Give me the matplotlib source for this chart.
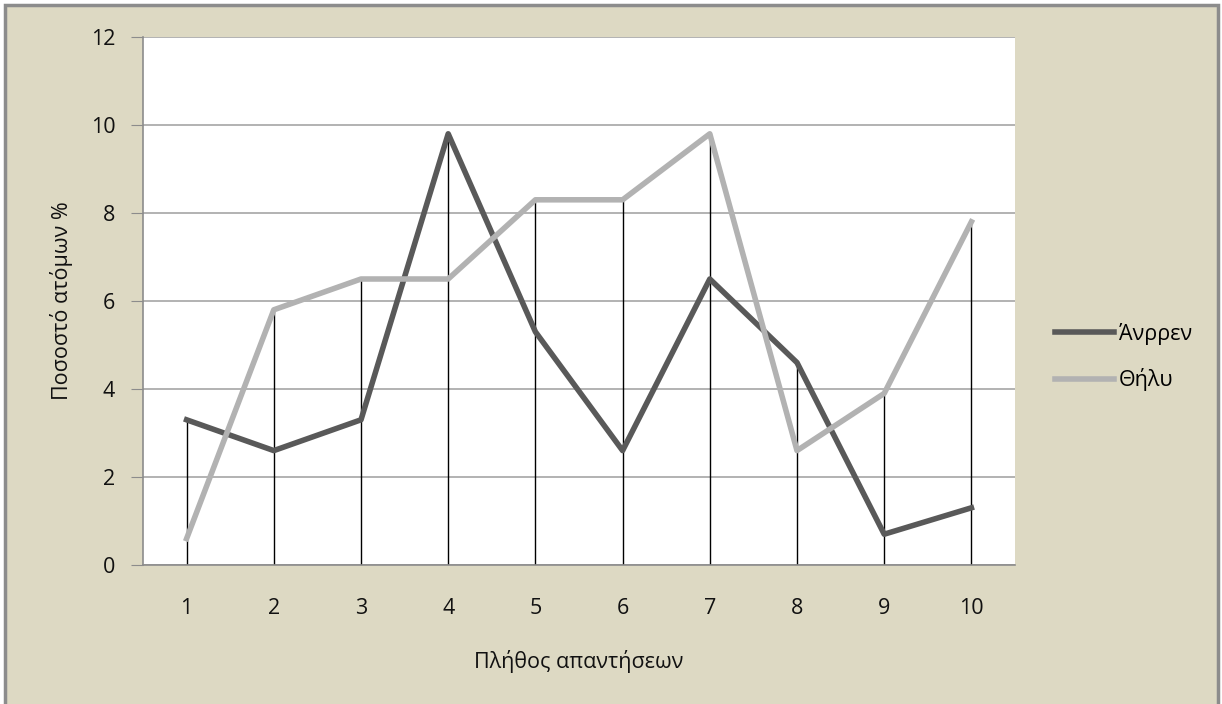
import matplotlib.pyplot as plt
from matplotlib.patches import Rectangle
import numpy as np

# answers per person vs. share of respondents, split by sex
answers = [1, 2, 3, 4, 5, 6, 7, 8, 9, 10]
male = [3.3, 2.6, 3.3, 9.8, 5.3, 2.6, 6.5, 4.6, 0.7, 1.3]
female = [0.6, 5.8, 6.5, 6.5, 8.3, 8.3, 9.8, 2.6, 3.9, 7.8]
y_ticks = [0, 2, 4, 6, 8, 10, 12]

BG = "#ddd9c3"
plt.rcParams['font.family'] = ['Open Sans', 'DejaVu Sans']

fig = plt.figure(figsize=(12.22, 7.04), dpi=100)
fig.patch.set_facecolor("white")
W, H = 1222, 704
frame = Rectangle((5 / W, -0.05), 1213 / W, 1.05 - 5 / H,
                  transform=fig.transFigure, facecolor=BG,
                  edgecolor="#8c8c8c", linewidth=2.5, zorder=-10)
fig.add_artist(frame)

ax = fig.add_axes([143 / W, 1 - 565 / H, 872 / W, 528 / H])
ax.set_facecolor("white")

x = np.array(answers)
top = np.maximum(male, female)
ax.vlines(x, 0, top, colors="black", linewidth=1, zorder=2)
ax.plot(x, male, color="#595959", linewidth=4, label="Άνρρεν", zorder=3)
ax.plot(x, female, color="#b2b2b2", linewidth=4, label="Θήλυ", zorder=3)

ax.set_xlim(0.5, 10.5)
ax.set_ylim(0, 12)
ax.set_yticks(y_ticks)
ax.set_xticks(x)
ax.set_xticklabels([str(a) for a in answers])
ax.yaxis.grid(True, color="#a6a6a6", linewidth=1.2)
ax.set_axisbelow(True)
for side in ["top", "right"]:
    ax.spines[side].set_visible(False)
for side in ["left", "bottom"]:
    ax.spines[side].set_color("#8c8c8c")
    ax.spines[side].set_linewidth(1.2)
ax.tick_params(axis="y", length=9, color="#8c8c8c", labelsize=15.5, pad=11,
               labelcolor="#111111")
ax.tick_params(axis="x", length=0, labelsize=15.5, pad=24, labelcolor="#111111")

ax.set_xlabel("Πλήθος απαντήσεων", fontsize=15.5, labelpad=22, color="#111111")
ax.set_ylabel("Ποσοστό ατόμων %", fontsize=15.5, labelpad=13, color="#111111")

ax.legend(loc="center left", bbox_to_anchor=(1036 / W, 1 - 357 / H),
          bbox_transform=fig.transFigure, frameon=False,
          fontsize=15.5, handlelength=2.7, handletextpad=0.25, labelspacing=1.1)

fig.savefig("out.png", dpi=100, facecolor=fig.get_facecolor())
